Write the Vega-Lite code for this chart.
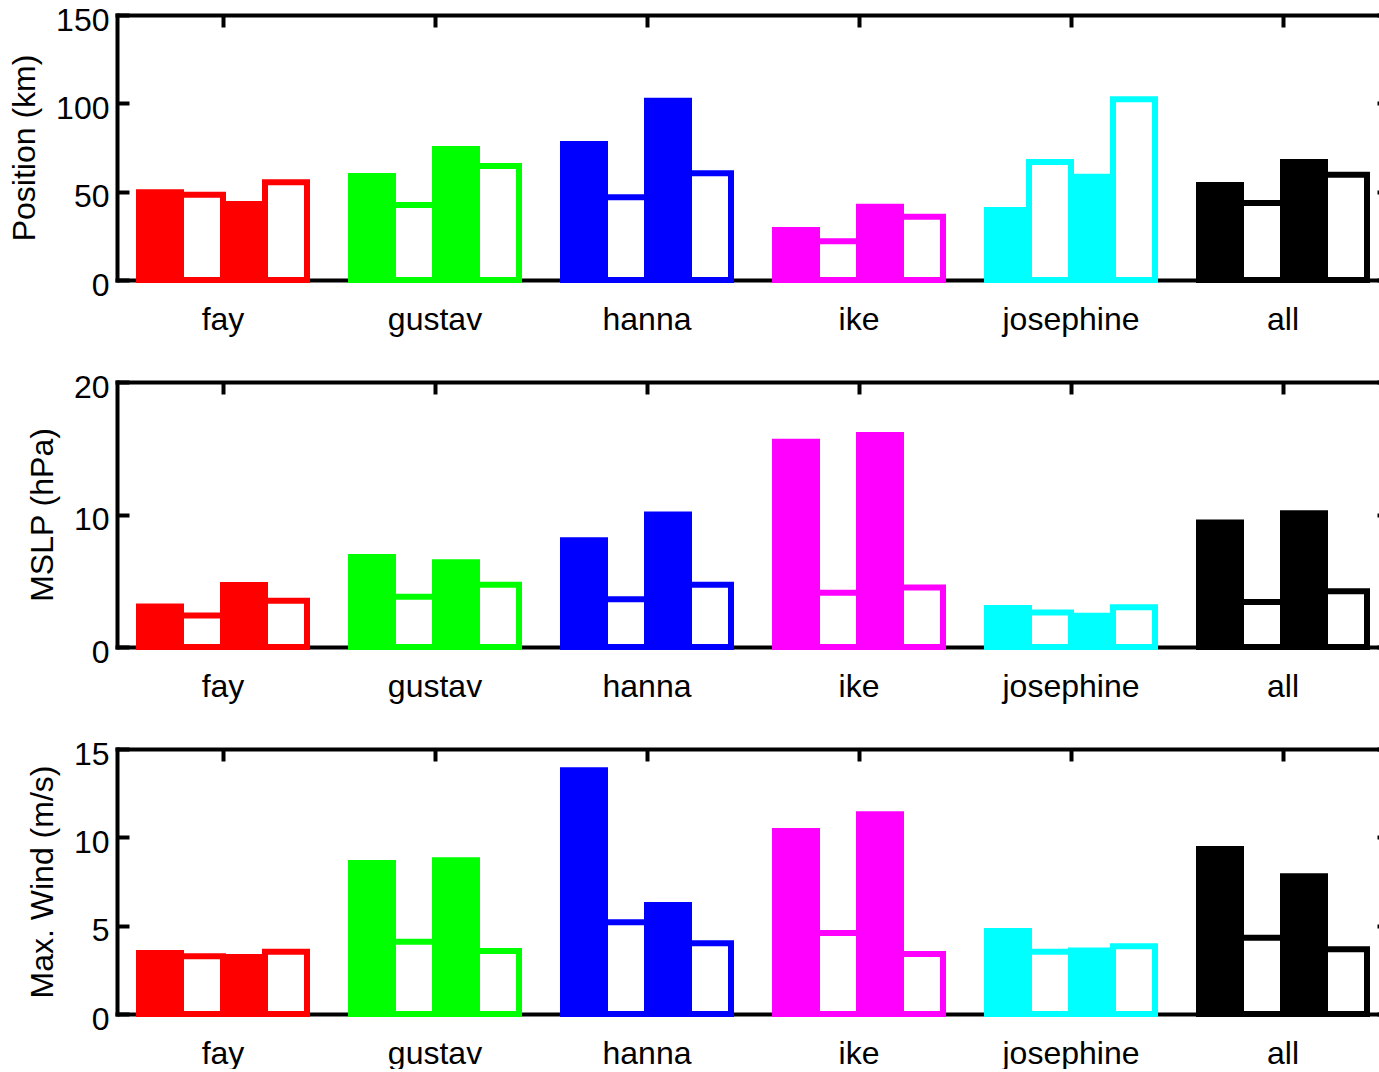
{
  "$schema": "https://vega.github.io/schema/vega-lite/v6.json",
  "background": "white",
  "padding": {"left": 8, "top": 4, "right": 0, "bottom": 0},
  "datasets": {
    "d": [
      {"storm": "fay", "slot": 1, "filled": true, "pos": 49.6, "mslp": 3.05, "wind": 3.45},
      {"storm": "fay", "slot": 2, "filled": false, "pos": 48.3, "mslp": 2.37, "wind": 3.27},
      {"storm": "fay", "slot": 3, "filled": true, "pos": 43.0, "mslp": 4.67, "wind": 3.23},
      {"storm": "fay", "slot": 4, "filled": false, "pos": 55.3, "mslp": 3.5, "wind": 3.53},
      {"storm": "gustav", "slot": 1, "filled": true, "pos": 58.9, "mslp": 6.8, "wind": 8.55},
      {"storm": "gustav", "slot": 2, "filled": false, "pos": 42.5, "mslp": 3.8, "wind": 4.09},
      {"storm": "gustav", "slot": 3, "filled": true, "pos": 74.2, "mslp": 6.4, "wind": 8.7},
      {"storm": "gustav", "slot": 4, "filled": false, "pos": 64.5, "mslp": 4.7, "wind": 3.57},
      {"storm": "hanna", "slot": 1, "filled": true, "pos": 77.0, "mslp": 8.05, "wind": 13.8},
      {"storm": "hanna", "slot": 2, "filled": false, "pos": 46.8, "mslp": 3.6, "wind": 5.2},
      {"storm": "hanna", "slot": 3, "filled": true, "pos": 101.5, "mslp": 10.0, "wind": 6.17},
      {"storm": "hanna", "slot": 4, "filled": false, "pos": 60.4, "mslp": 4.7, "wind": 4.0},
      {"storm": "ike", "slot": 1, "filled": true, "pos": 28.3, "mslp": 15.5, "wind": 10.36},
      {"storm": "ike", "slot": 2, "filled": false, "pos": 21.9, "mslp": 4.1, "wind": 4.58},
      {"storm": "ike", "slot": 3, "filled": true, "pos": 41.5, "mslp": 16.0, "wind": 11.3},
      {"storm": "ike", "slot": 4, "filled": false, "pos": 35.8, "mslp": 4.5, "wind": 3.4},
      {"storm": "josephine", "slot": 1, "filled": true, "pos": 39.6, "mslp": 2.95, "wind": 4.7},
      {"storm": "josephine", "slot": 2, "filled": false, "pos": 66.8, "mslp": 2.6, "wind": 3.53},
      {"storm": "josephine", "slot": 3, "filled": true, "pos": 58.5, "mslp": 2.35, "wind": 3.6},
      {"storm": "josephine", "slot": 4, "filled": false, "pos": 102.3, "mslp": 3.0, "wind": 3.83},
      {"storm": "all", "slot": 1, "filled": true, "pos": 53.8, "mslp": 9.4, "wind": 9.34},
      {"storm": "all", "slot": 2, "filled": false, "pos": 43.6, "mslp": 3.4, "wind": 4.32},
      {"storm": "all", "slot": 3, "filled": true, "pos": 66.8, "mslp": 10.1, "wind": 7.8},
      {"storm": "all", "slot": 4, "filled": false, "pos": 59.6, "mslp": 4.2, "wind": 3.66}
    ]
  },
  "data": {"name": "d"},
  "config": {
    "view": {"stroke": null},
    "font": "Liberation Sans",
    "axis": {
      "domainColor": "black", "domainWidth": 4, "domainCap": "square",
      "tickColor": "black", "tickWidth": 4,
      "labelFont": "Liberation Sans", "labelFontSize": 32, "labelColor": "black",
      "titleFont": "Liberation Sans", "titleFontSize": 32, "titleFontWeight": "normal", "titleColor": "black",
      "grid": false, "zindex": 1
    }
  },
  "spacing": 36,
  "vconcat": [
    {
      "width": 1272, "height": 265,
      "layer": [
        {
          "mark": {"type": "bar", "strokeWidth": 6},
          "encoding": {
            "x": {"field": "storm", "type": "nominal", "sort": ["fay", "gustav", "hanna", "ike", "josephine", "all"], "scale": {"paddingInner": 0.2075, "paddingOuter": 0.10375},
                  "axis": {"orient": "bottom", "ticks": false, "labelAngle": 0, "labelPadding": 24, "title": null}},
            "xOffset": {"field": "slot", "type": "ordinal", "scale": {"paddingInner": 0, "paddingOuter": 0}},
            "y": {"field": "pos", "type": "quantitative", "scale": {"domain": [0, 150], "nice": false},
                  "axis": {"orient": "left", "values": [0, 50, 100, 150], "tickSize": -12, "labelPadding": 20, "labelOffset": 5, "title": "Position (km)", "titlePadding": 14}},
            "fill": {"condition": {"test": "!datum.filled", "value": "white"}, "field": "storm", "type": "nominal",
                     "scale": {"domain": ["fay", "gustav", "hanna", "ike", "josephine", "all"], "range": ["#ff0000", "#00ff00", "#0000ff", "#ff00ff", "#00ffff", "#000000"]}, "legend": null},
            "stroke": {"field": "storm", "type": "nominal",
                     "scale": {"domain": ["fay", "gustav", "hanna", "ike", "josephine", "all"], "range": ["#ff0000", "#00ff00", "#0000ff", "#ff00ff", "#00ffff", "#000000"]}, "legend": null}
          }
        },
        {
          "mark": {"type": "bar", "opacity": 0},
          "encoding": {
            "x": {"field": "storm", "type": "nominal", "sort": ["fay", "gustav", "hanna", "ike", "josephine", "all"],
                  "axis": {"orient": "top", "labels": false, "tickSize": -12, "title": null}},
            "xOffset": {"field": "slot", "type": "ordinal"},
            "y": {"field": "pos", "type": "quantitative",
                  "axis": {"orient": "right", "labels": false, "values": [0, 50, 100, 150], "tickSize": -12, "title": null}}
          }
        }
      ],
      "resolve": {"axis": {"x": "independent", "y": "independent"}}
    },
    {
      "width": 1272, "height": 265,
      "layer": [
        {
          "mark": {"type": "bar", "strokeWidth": 6},
          "encoding": {
            "x": {"field": "storm", "type": "nominal", "sort": ["fay", "gustav", "hanna", "ike", "josephine", "all"], "scale": {"paddingInner": 0.2075, "paddingOuter": 0.10375},
                  "axis": {"orient": "bottom", "ticks": false, "labelAngle": 0, "labelPadding": 24, "title": null}},
            "xOffset": {"field": "slot", "type": "ordinal", "scale": {"paddingInner": 0, "paddingOuter": 0}},
            "y": {"field": "mslp", "type": "quantitative", "scale": {"domain": [0, 20], "nice": false},
                  "axis": {"orient": "left", "values": [0, 10, 20], "tickSize": -12, "labelPadding": 20, "labelOffset": 5, "title": "MSLP (hPa)", "titlePadding": 14}},
            "fill": {"condition": {"test": "!datum.filled", "value": "white"}, "field": "storm", "type": "nominal",
                     "scale": {"domain": ["fay", "gustav", "hanna", "ike", "josephine", "all"], "range": ["#ff0000", "#00ff00", "#0000ff", "#ff00ff", "#00ffff", "#000000"]}, "legend": null},
            "stroke": {"field": "storm", "type": "nominal",
                     "scale": {"domain": ["fay", "gustav", "hanna", "ike", "josephine", "all"], "range": ["#ff0000", "#00ff00", "#0000ff", "#ff00ff", "#00ffff", "#000000"]}, "legend": null}
          }
        },
        {
          "mark": {"type": "bar", "opacity": 0},
          "encoding": {
            "x": {"field": "storm", "type": "nominal", "sort": ["fay", "gustav", "hanna", "ike", "josephine", "all"],
                  "axis": {"orient": "top", "labels": false, "tickSize": -12, "title": null}},
            "xOffset": {"field": "slot", "type": "ordinal"},
            "y": {"field": "mslp", "type": "quantitative",
                  "axis": {"orient": "right", "labels": false, "values": [0, 10, 20], "tickSize": -12, "title": null}}
          }
        }
      ],
      "resolve": {"axis": {"x": "independent", "y": "independent"}}
    },
    {
      "width": 1272, "height": 265,
      "layer": [
        {
          "mark": {"type": "bar", "strokeWidth": 6},
          "encoding": {
            "x": {"field": "storm", "type": "nominal", "sort": ["fay", "gustav", "hanna", "ike", "josephine", "all"], "scale": {"paddingInner": 0.2075, "paddingOuter": 0.10375},
                  "axis": {"orient": "bottom", "ticks": false, "labelAngle": 0, "labelPadding": 24, "title": null}},
            "xOffset": {"field": "slot", "type": "ordinal", "scale": {"paddingInner": 0, "paddingOuter": 0}},
            "y": {"field": "wind", "type": "quantitative", "scale": {"domain": [0, 15], "nice": false},
                  "axis": {"orient": "left", "values": [0, 5, 10, 15], "tickSize": -12, "labelPadding": 20, "labelOffset": 5, "title": "Max. Wind (m/s)", "titlePadding": 14}},
            "fill": {"condition": {"test": "!datum.filled", "value": "white"}, "field": "storm", "type": "nominal",
                     "scale": {"domain": ["fay", "gustav", "hanna", "ike", "josephine", "all"], "range": ["#ff0000", "#00ff00", "#0000ff", "#ff00ff", "#00ffff", "#000000"]}, "legend": null},
            "stroke": {"field": "storm", "type": "nominal",
                     "scale": {"domain": ["fay", "gustav", "hanna", "ike", "josephine", "all"], "range": ["#ff0000", "#00ff00", "#0000ff", "#ff00ff", "#00ffff", "#000000"]}, "legend": null}
          }
        },
        {
          "mark": {"type": "bar", "opacity": 0},
          "encoding": {
            "x": {"field": "storm", "type": "nominal", "sort": ["fay", "gustav", "hanna", "ike", "josephine", "all"],
                  "axis": {"orient": "top", "labels": false, "tickSize": -12, "title": null}},
            "xOffset": {"field": "slot", "type": "ordinal"},
            "y": {"field": "wind", "type": "quantitative",
                  "axis": {"orient": "right", "labels": false, "values": [0, 5, 10, 15], "tickSize": -12, "title": null}}
          }
        }
      ],
      "resolve": {"axis": {"x": "independent", "y": "independent"}}
    }
  ]
}
